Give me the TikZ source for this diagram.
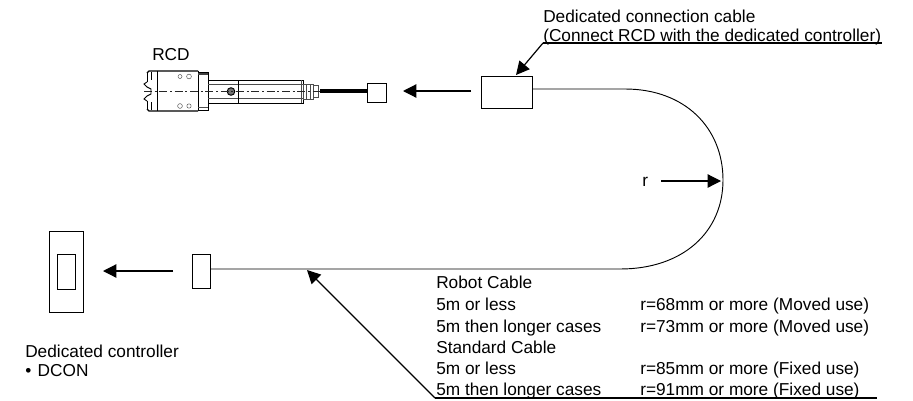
\documentclass[tikz,border=0pt]{standalone}
\usepackage{fontspec}
\setmainfont{Liberation Sans}
\usetikzlibrary{arrows.meta}
\tikzset{
  ln/.style={draw=black,line width=0.7pt},
  thinpart/.style={draw=black!70,line width=0.35pt},
  arr/.style={draw=black,line width=0.9pt,-{Triangle[length=10pt,width=10pt]}},
  txt/.style={anchor=base west,inner sep=0pt,font=\fontsize{12.95pt}{15pt}\selectfont},
}
\begin{document}
\begin{tikzpicture}[x=0.75pt,y=-0.75pt]
\useasboundingbox (0,0) rectangle (913,400);
% RCD
\draw[ln,line width=0.9pt] (147,73) -- (149,71) -- (157,71) -- (198,71);
\draw[ln,line width=0.9pt] (147,109) -- (149,111) -- (157,111) -- (198,111);
\draw[ln] (147,73) -- (147,82) (147,101) -- (147,109);
\draw[ln] (157,71) -- (157,111);
\draw[ln] (198,71) -- (198,111);
\draw[ln] (198,72) -- (208,72) -- (208,110) -- (198,110);
\draw[ln,line width=1.4pt,draw=black!75] (198,74) -- (208,74);
\draw[thinpart] (198,107) -- (208,107);
\draw[ln] (151,72) -- (151,80) (151,102) -- (151,110);
\draw[ln] (208,80) -- (303,80) -- (303,103) -- (208,103);
\draw[thinpart] (208,84) -- (303,84) (208,98) -- (303,98);
\draw[ln] (238,80) -- (238,103);
\draw[thinpart] (301,80) -- (301,103);
\draw[thinpart] (303,84) rectangle (313,99);
\draw[thinpart] (306,84) -- (306,99) (310,84) -- (310,99);
\draw[thinpart] (313,85) rectangle (318,97);
\draw[thinpart] (180,76.5) circle (2) (189,76.5) circle (2.4) (180,106) circle (2.4) (189,106) circle (2.2);
\draw[ln,fill=black!55] (231,91.5) circle (3.8);
\draw[draw=black!85,line width=0.45pt,dash pattern=on 6pt off 2pt on 1.5pt off 2pt] (144,91.5) -- (320,91.5);
\draw[ln] (147,82) -- (144,84) -- (147,87) (147,96) -- (144,99) -- (147,101);
\draw[ln] (147,87) -- (151,89) -- (151,94) -- (147,96);
% Connector
\node[draw=black,line width=0.7pt,minimum width=14.25pt,minimum height=14.25pt,inner sep=0pt,anchor=north west] (head) at (367,83) {};
\coordinate (cabstart) at (320,91);
\draw[draw=black,line width=3.7pt] (cabstart) -- (head.west |- cabstart);
\node[draw=black,line width=0.7pt,minimum width=38.25pt,minimum height=24pt,inner sep=0pt,anchor=north west] (conn) at (481,76) {};
\coordinate (a1) at (471,91);
\coordinate (a1t) at (403,91);
\draw[arr] (a1) -- (a1t);
\coordinate (c1) at (532,89);
\coordinate (c2) at (210,269);
\draw[ln] (c1) -- (625,89) .. controls (685,89) and (723,128) .. (723,180)
  .. controls (723,232) and (683,269) .. (620,269) -- (c2);
\node[draw=black,line width=0.7pt,minimum width=13.5pt,minimum height=25.5pt,inner sep=0pt,anchor=north west] (plug) at (192,254) {};
\node[draw=black,line width=0.7pt,minimum width=25.5pt,minimum height=60.75pt,inner sep=0pt,anchor=north west] (ctrl) at (49,231) {};
\node[draw=black,line width=0.7pt,minimum width=13.5pt,minimum height=26.25pt,inner sep=0pt,anchor=north west] (ctrlin) at (57,254) {};
\coordinate (a2) at (173,271);
\coordinate (a2t) at (103,271);
\draw[arr] (a2) -- (a2t);
% Labels
\node[txt] (rcd) at (152,60) {RCD};
\node[txt] (t1) at (543,22) {Dedicated connection cable};
\node[txt] (t2) at (543,41) {(Connect RCD with the dedicated controller)};
\coordinate (u1) at (543,43);
\coordinate (u2) at (882,43);
\draw[draw=black,line width=0.9pt] (u1) -- (u2);
\coordinate (ld1t) at (516,75);
\draw[arr] (u1) -- (ld1t);
\node[txt] (rl) at (642,186) {r};
\coordinate (a3) at (661,181);
\coordinate (a3t) at (721,181);
\draw[arr] (a3) -- (a3t);
\node[txt] (dc) at (25,357) {Dedicated controller};
\node[txt] (dcon) at (25,376) {•\hspace{1.2pt} DCON};
\node[txt] (l1) at (436,288) {Robot Cable};
\node[txt] (l2) at (436,310) {5m or less};
\node[txt] (l3) at (436,332) {5m then longer cases};
\node[txt] (l4) at (436,353) {Standard Cable};
\node[txt] (l5) at (436,374) {5m or less};
\node[txt] (l6) at (436,395) {5m then longer cases};
\node[txt] (r2) at (640,310) {r=68mm or more (Moved use)};
\node[txt] (r3) at (640,332) {r=73mm or more (Moved use)};
\node[txt] (r5) at (640,374) {r=85mm or more (Fixed use)};
\node[txt] (r6) at (640,395) {r=91mm or more (Fixed use)};
\coordinate (u3) at (435,398);
\coordinate (u4) at (877,398);
\coordinate (ld2t) at (307,270);
\draw[draw=black,line width=0.9pt] (u3) -- (u4);
\draw[arr] (u3) -- (ld2t);
\end{tikzpicture}
\end{document}
